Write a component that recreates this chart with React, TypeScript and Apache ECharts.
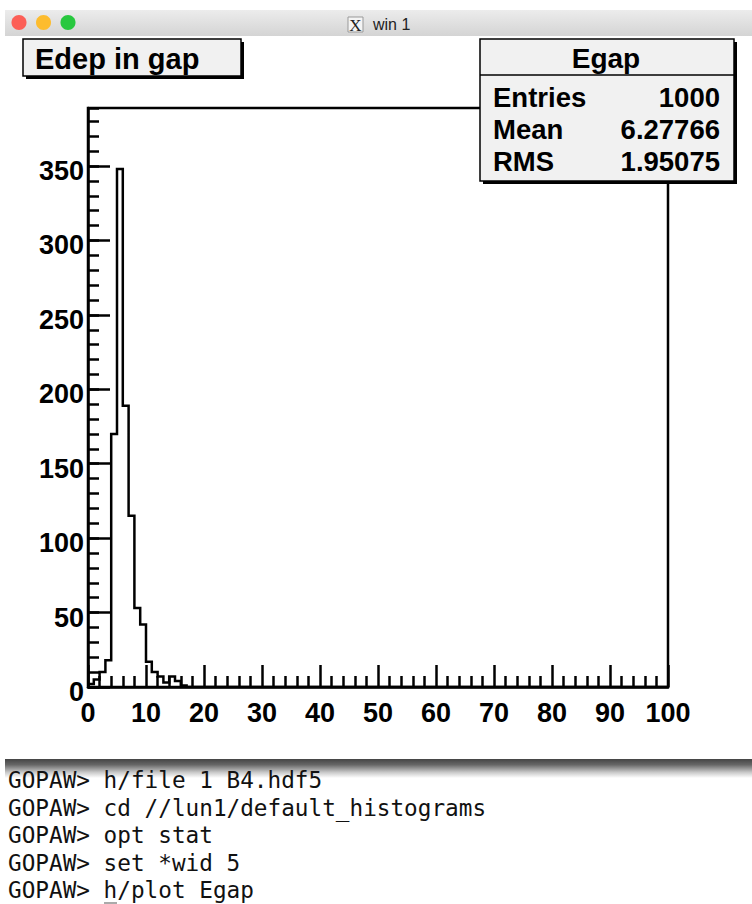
import React, { useEffect, useRef } from "react";
import * as echarts from "echarts";

const binValues = [2, 5, 10, 18, 170, 348, 189, 115, 53, 42, 17, 10, 7, 3, 7, 4, 1];
const xMax = 100;
const yMax = 389;
const titleText = "Edep in gap";
const statsName = "Egap";
const statsLabels = ["Entries", "Mean", "RMS"];
const statsValues = ["1000", "6.27766", "1.95075"];
const terminalLines = [
  "GOPAW> h/file 1 B4.hdf5",
  "GOPAW> cd //lun1/default_histograms",
  "GOPAW> opt stat",
  "GOPAW> set *wid 5",
  "GOPAW> h/plot Egap",
];
const windowTitle = "win 1";
const trafficLights = ["#fc5f57", "#fdbc2e", "#28c83f"];

const F = '"Liberation Sans", Arial, sans-serif';
const axisText = { color: "#000", fontFamily: F, fontWeight: "bold" as const, fontSize: 27 };
const lineS = { color: "#000", width: 2.5 };

function box(x: number, y: number, w: number, h: number, shadow: number) {
  return [
    { type: "rect", z: 20, shape: { x: x + shadow, y: y + shadow, width: w, height: h }, style: { fill: "#000" } },
    { type: "rect", z: 21, shape: { x, y, width: w, height: h }, style: { fill: "#f1f1f1", stroke: "#000", lineWidth: 1.5 } },
  ];
}
function label(text: string, x: number, y: number, fontSize: number, align = "left", extra: any = {}) {
  return {
    type: "text", z: 22, x, y,
    style: { text, fontFamily: F, fontWeight: "bold", fontSize, fill: "#000", align, verticalAlign: "middle", ...extra },
  };
}

export default function App() {
  const ref = useRef<HTMLDivElement>(null);
  useEffect(() => {
    const chart = echarts.init(ref.current!, undefined, { renderer: "svg" });
    const data = binValues.map((v, i) => [i, v]).concat([[binValues.length, 0], [xMax, 0]]);
    const graphic: any[] = [
      {
        type: "rect", z: 10, shape: { x: 5, y: 10, width: 747, height: 26 },
        style: { fill: new echarts.graphic.LinearGradient(0, 0, 0, 1, [{ offset: 0, color: "#ececec" }, { offset: 1, color: "#d4d4d4" }]) },
      },
      ...trafficLights.map((c, i) => ({
        type: "ellipse", z: 11, shape: { cx: 19 + i * 24.5, cy: 22.5, rx: 7.5, ry: 7.5 }, style: { fill: c },
      })),
      { type: "rect", z: 11, shape: { x: 348, y: 17, width: 15, height: 15 }, style: { fill: "#f4f4f4", stroke: "#999", lineWidth: 1 } },
      { type: "text", z: 12, x: 355.5, y: 25, style: { text: "X", fontFamily: '"Liberation Serif"', fontSize: 17, fill: "#222", align: "center", verticalAlign: "middle" } },
      { type: "text", z: 11, x: 373, y: 24, style: { text: windowTitle, fontFamily: F, fontSize: 16, fill: "#222", verticalAlign: "middle" } },
      ...box(23, 39, 218, 37, 3),
      label(titleText, 35, 58.5, 29),
      ...box(480, 39, 254, 142, 3),
      { type: "line", z: 22, shape: { x1: 480, y1: 75, x2: 734, y2: 75 }, style: { stroke: "#000", lineWidth: 1.5 } },
      label(statsName, 606, 58.5, 28, "center"),
      ...statsLabels.map((t, i) => label(t, 493, 97 + i * 32, 27.5)),
      ...statsValues.map((t, i) => label(t, 720, 97 + i * 32, 27.5, "right")),
      {
        type: "rect", z: 10, shape: { x: 5, y: 759, width: 747, height: 19 },
        style: { fill: new echarts.graphic.LinearGradient(0, 0, 0, 1, [
          { offset: 0, color: "#444" }, { offset: 0.3, color: "#666" }, { offset: 0.7, color: "#c8c8c8" }, { offset: 1, color: "#fff" },
        ]) },
      },
      ...terminalLines.map((t, i) => ({
        type: "text", z: 11, x: 8, y: 780 + i * 27.5,
        style: { text: t, fontFamily: '"DejaVu Sans Mono"', fontSize: 22.7, fill: "#111", verticalAlign: "middle" },
      })),
      { type: "rect", z: 11, shape: { x: 104, y: 902, width: 13, height: 2 }, style: { fill: "#aaa" } },
    ];
    chart.setOption({
      animation: false,
      backgroundColor: "#fff",
      grid: { left: 88, top: 108, width: 580, height: 579, show: true, borderColor: "#000", borderWidth: 2.5, backgroundColor: "transparent" },
      xAxis: {
        type: "value", min: 0, max: xMax, interval: 10,
        splitLine: { show: false },
        axisLine: { show: true, lineStyle: lineS, onZero: false },
        axisTick: { show: true, inside: true, length: 22, lineStyle: lineS },
        minorTick: { show: true, splitNumber: 5, length: 11, lineStyle: lineS },
        axisLabel: { ...axisText, margin: 12 },
      },
      yAxis: [
        {
          type: "value", position: "left", min: 0, max: yMax, interval: 50,
          splitLine: { show: false },
          axisLine: { show: true, lineStyle: lineS, onZero: false },
          axisTick: { show: true, inside: true, length: 22, lineStyle: lineS },
          axisLabel: { ...axisText, margin: 4, showMaxLabel: false, verticalAlign: "top", lineHeight: 10 },
        },
        {
          type: "value", position: "left", min: 0, max: yMax, interval: 10,
          splitLine: { show: false },
          axisLine: { show: false },
          axisTick: { show: true, inside: true, length: 11, lineStyle: lineS },
          axisLabel: { show: false },
        },
      ],
      series: [
        {
          type: "line", step: "end", data, xAxisIndex: 0, yAxisIndex: 0,
          showSymbol: false, symbol: "none", silent: true,
          lineStyle: { color: "#000", width: 2.5, join: "miter" },
        },
      ],
      graphic: { elements: graphic },
    });
    return () => chart.dispose();
  }, []);
  return <div ref={ref} style={{ position: "absolute", left: 0, top: 0, width: 752, height: 904 }} />;
}
